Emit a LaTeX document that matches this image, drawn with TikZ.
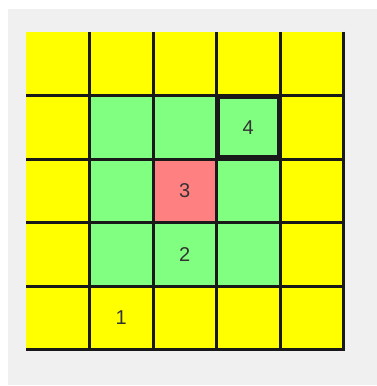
\documentclass[tikz,border=0pt]{standalone}
\usepackage{fontspec}
\setmainfont{Liberation Sans}
\definecolor{cellyellow}{HTML}{FFFF00}
\definecolor{cellgreen}{HTML}{80FF80}
\definecolor{cellred}{HTML}{FF8080}
\definecolor{panelgray}{HTML}{F0F0F0}

\begin{document}
\begin{tikzpicture}[x=1pt, y=-1pt,
        cell/.style={rectangle, minimum size=63.5pt, inner sep=0pt, fill=#1},
        edge/.style={draw=black!90, line width=2.8pt},
        focus/.style={draw=black!90, line width=4pt},
        num/.style={font=\fontsize{20}{20}\selectfont, text=black!80}]

    \useasboundingbox (0,0) rectangle (377,386);
    \fill [panelgray] (8,9) rectangle (377,385);

    % board
    \foreach \r in {0,...,4} {
        \foreach \c in {0,...,4} {
            \pgfmathtruncatemacro\inner{(\r>0)&&(\r<4)&&(\c>0)&&(\c<4)}
            \ifnum\inner=1 \def\kind{cellgreen}\else\def\kind{cellyellow}\fi
            \ifnum\r=2 \ifnum\c=2 \def\kind{cellred}\fi\fi
            \node [cell=\kind] (cell-\r-\c) at (57.75+63.5*\c, 63.75+63.5*\r) {};
        }
    }

    % shadow lines right and below each cell
    \foreach \r in {0,...,4} {
        \foreach \c in {0,...,4} {
            \draw [edge] (cell-\r-\c.north east) -- (cell-\r-\c.south east) -- (cell-\r-\c.south west);
        }
    }
    % selected cell
    \draw [focus] ([shift={(2,-2)}]cell-1-3.south west) rectangle ([shift={(-1.5,2)}]cell-1-3.north east);

    \node [num] (one) at (cell-4-1) {1};
    \node [num] (two) at (cell-3-2) {2};
    \node [num] (three) at (cell-2-2) {3};
    \node [num] (four) at (cell-1-3) {4};
\end{tikzpicture}
\end{document}
